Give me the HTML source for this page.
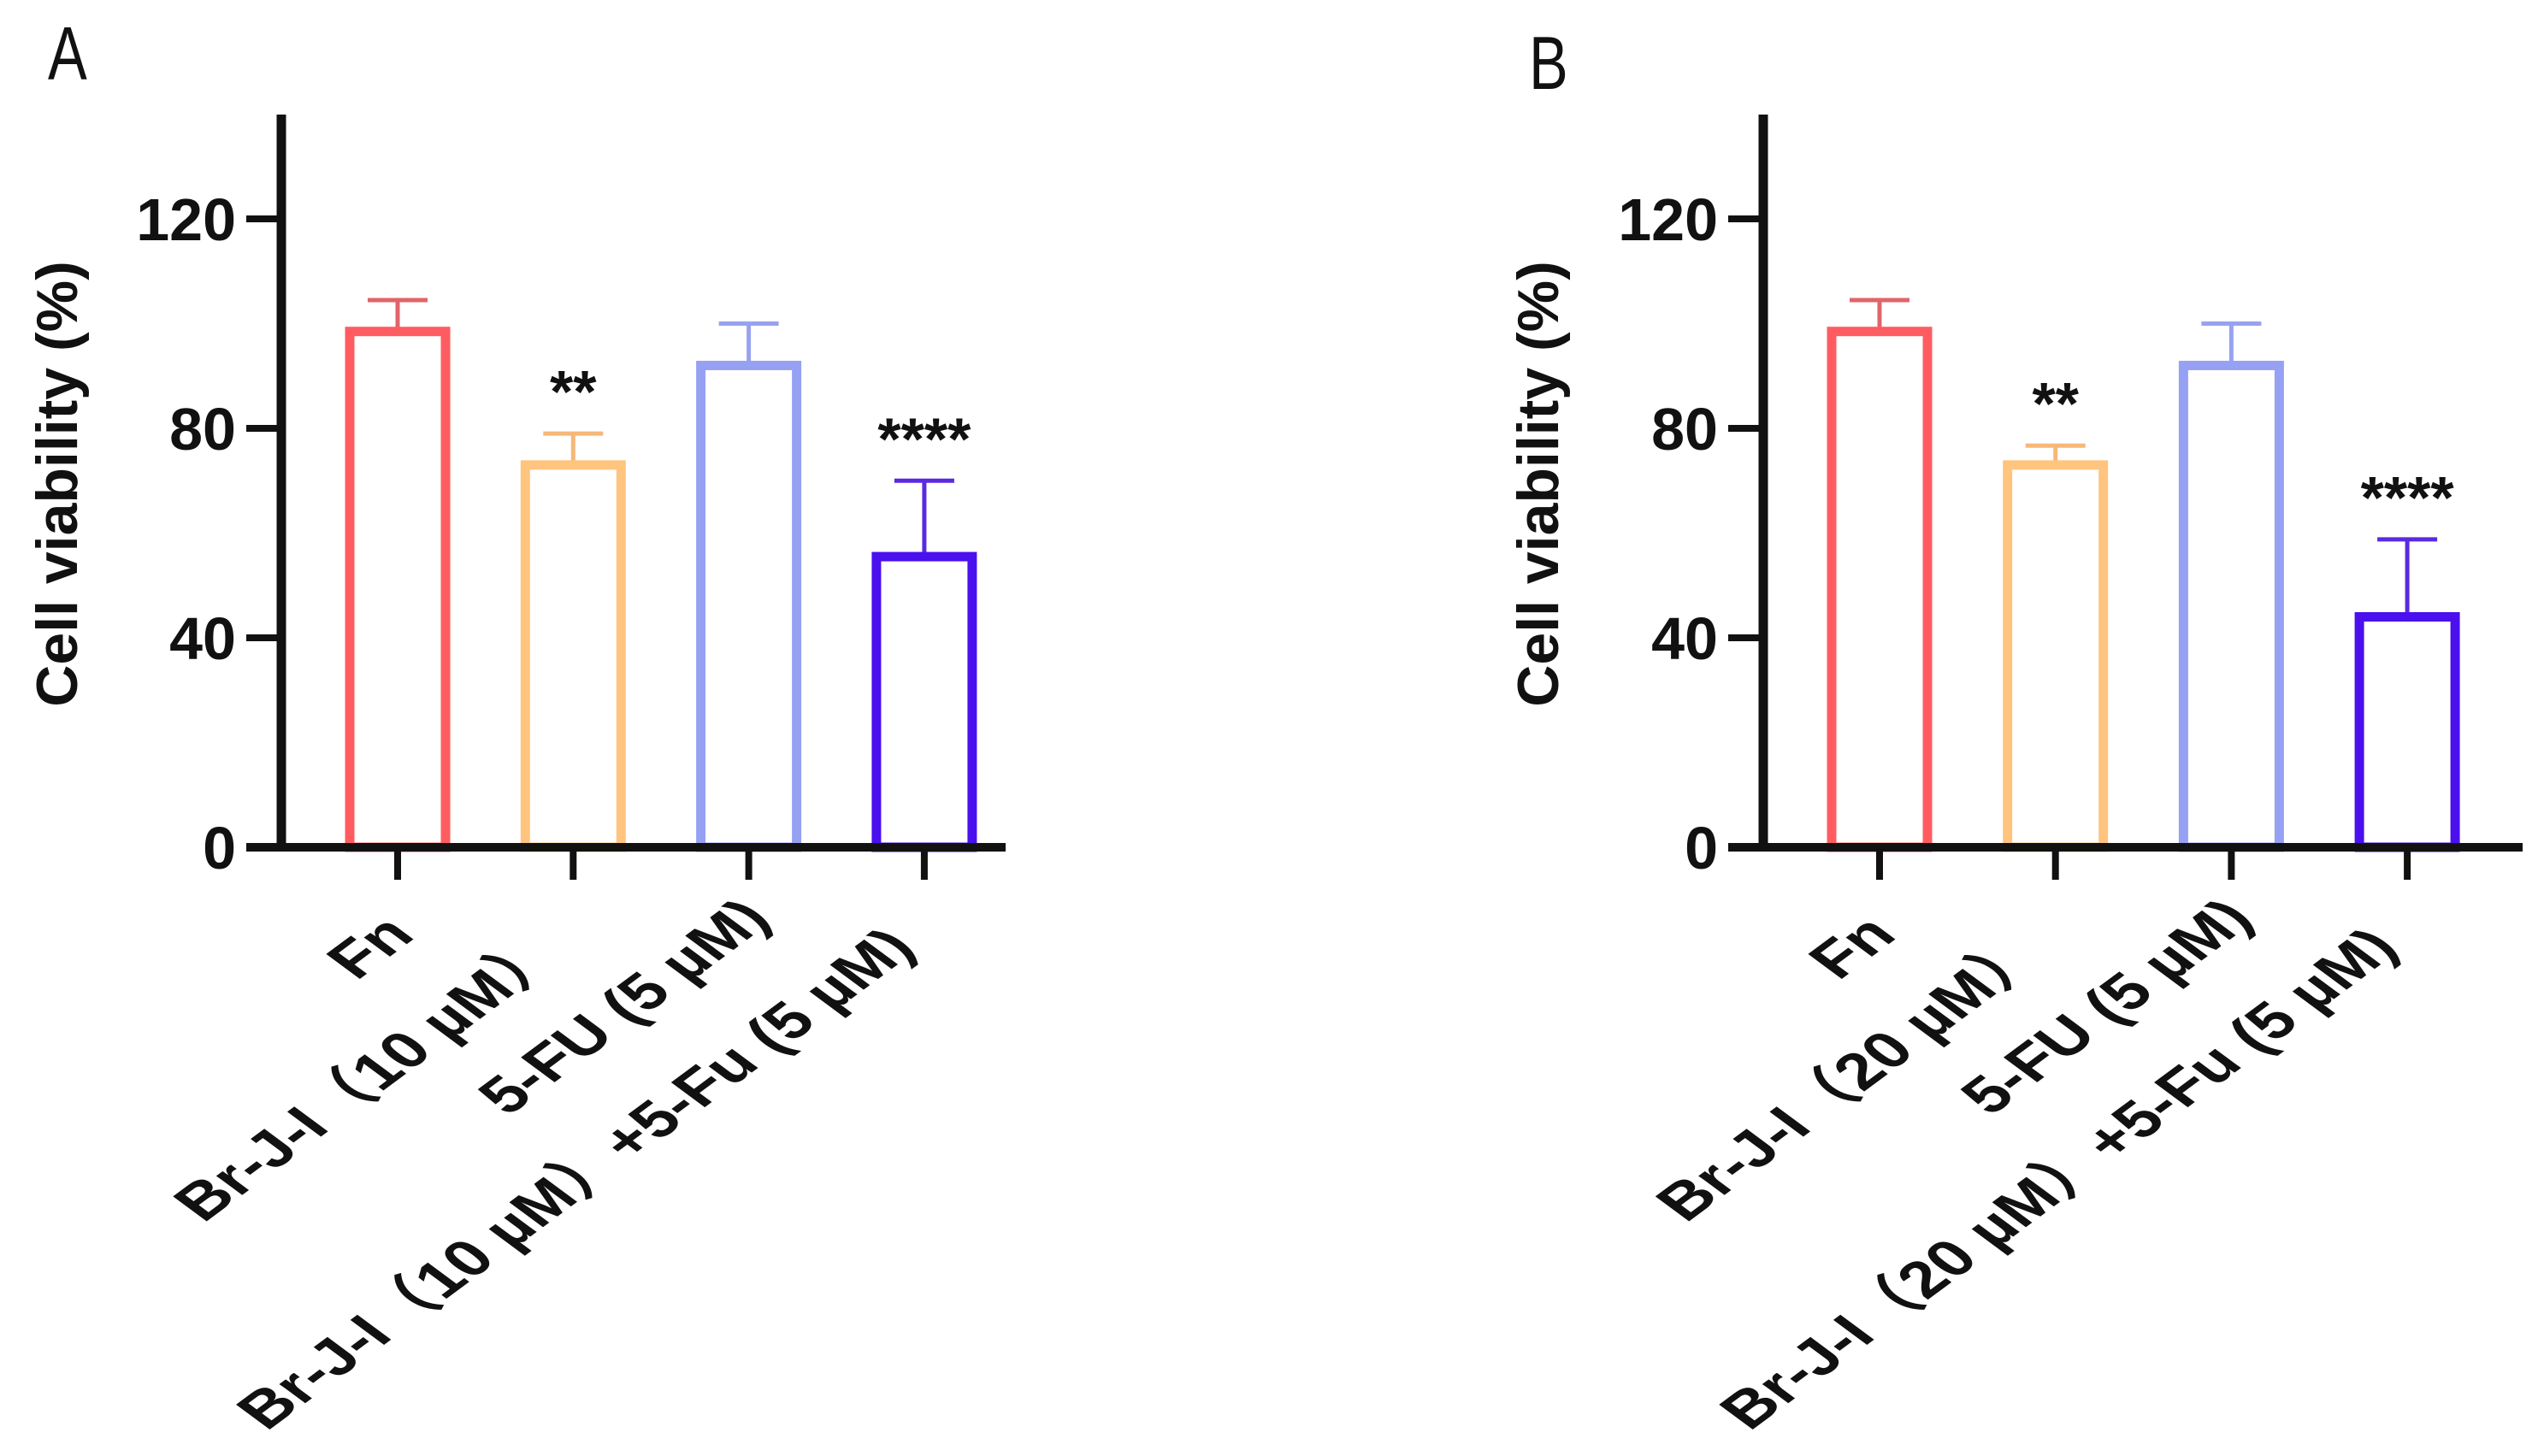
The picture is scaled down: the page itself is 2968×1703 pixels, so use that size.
<!DOCTYPE html>
<html><head><meta charset="utf-8"><style>
html,body{margin:0;padding:0;background:#fff;}
svg{display:block;}
text{font-family:"Liberation Sans","Noto Sans CJK SC",sans-serif;}
</style></head><body>
<svg id="fig" width="2968" height="1703" viewBox="0 0 2968 1703" xmlns="http://www.w3.org/2000/svg">
<rect width="2968" height="1703" fill="#fff"/>
</svg>
<script>
const categoriesA = ["Fn", "Br-J-I（10 µM）", "5-FU (5 µM)", "Br-J-I（10 µM）+5-Fu (5 µM)"];
const categoriesB = ["Fn", "Br-J-I（20 µM）", "5-FU (5 µM)", "Br-J-I（20 µM）+5-Fu (5 µM)"];
const meansA = [98.5, 73, 92, 55.5];
const errorsA = [6, 6, 8, 14.5];
const meansB = [98.5, 73, 92, 44];
const errorsB = [6, 3.7, 8, 14.8];
const starsA = ["", "**", "", "****"];
const starsB = ["", "**", "", "****"];
const yTicks = [0, 40, 80, 120];
const yMax = 140;

const NS = "http://www.w3.org/2000/svg";
const svg = document.getElementById("fig");
const colors = ["#ff5c61", "#ffc47e", "#97a1f3", "#4a10ee"];
const errColors = ["#e0656a", "#f6b878", "#98a2f0", "#5a2ae0"];
function mk(tag, attrs, parent) {
  const e = document.createElementNS(NS, tag);
  for (const k in attrs) e.setAttribute(k, attrs[k]);
  (parent || svg).appendChild(e);
  return e;
}
function panel(opt) {
  const g = mk("g", {});
  
  
  const y0 = 991, pxPerUnit = 6.125;
  const yScale = v => y0 - v * pxPerUnit;
  const xScale = i => opt.x0 + i * opt.step;
  const L = mk("text", {x: 0, y: 0, "font-size": 88, fill: "#111", transform: `translate(${opt.letterX},${opt.letterY}) scale(0.78,1)`}, g);
  L.textContent = opt.letter;
  
  
  opt.means.forEach((m, i) => {
    const cx = xScale(i), w = 112;
    const top = yScale(m), et = yScale(m + opt.errors[i]);
    const eb = mk("line", {x1: cx, x2: cx, y1: top, y2: et, stroke: errColors[i], "stroke-width": 5}, g);
    
    
    const cap = mk("line", {x1: cx - 35, x2: cx + 35, y1: et, y2: et, stroke: errColors[i], "stroke-width": 5}, g);
    
    
    const b = mk("rect", {x: cx - w / 2, y: top, width: w, height: y0 - top, fill: "none", stroke: colors[i], "stroke-width": 11}, g);
    
    
    if (opt.stars[i]) {
      const s = mk("text", {x: cx, y: et - 58 + 33, "font-size": 70, "font-weight": "bold", "text-anchor": "middle", fill: "#111"}, g);
      s.textContent = opt.stars[i];
      
      
    }
    const t = mk("line", {x1: cx, x2: cx, y1: y0, y2: y0 + 38, stroke: "#111", "stroke-width": 8}, g);
    
    
    const lab = mk("text", {x: 0, y: 0, "font-size": 60, "font-weight": "bold", "text-anchor": "end", fill: "#111",
      transform: `translate(${cx + opt.labOff[i][0]},${y0 + opt.labOff[i][1]}) scale(1.35,1) rotate(-45)`}, g);
    lab.textContent = opt.cats[i];
    
    
  });
  const ya = mk("line", {x1: opt.axisX, x2: opt.axisX, y1: 134, y2: y0 + 5, stroke: "#111", "stroke-width": 11}, g);
  
  
  const xa = mk("line", {x1: opt.axisX - 41, x2: opt.axisEnd, y1: y0, y2: y0, stroke: "#111", "stroke-width": 10}, g);
  
  
  yTicks.forEach(v => {
    const y = yScale(v);
    const tk = mk("line", {x1: opt.axisX - 41, x2: opt.axisX, y1: y, y2: y, stroke: "#111", "stroke-width": 8}, g);
    
    
    const tl = mk("text", {x: opt.axisX - 53, y: y + 25, "font-size": 70, "font-weight": "bold", "text-anchor": "end", fill: "#111"}, g);
    tl.textContent = v;
    
    
  });
  const yt = mk("text", {x: 0, y: 0, "font-size": 68, "font-weight": "bold", "text-anchor": "middle", fill: "#111",
    transform: `translate(${opt.titleX},566) rotate(-90)`}, g);
  yt.textContent = "Cell viability (%)";
  
  
}
const labOffA = [[22, 105], [-8, 126], [28, 86], [-8, 120]];
panel({name: "panel-a", letter: "A", letterX: 56, letterY: 93, x0: 465, step: 205.3, axisX: 329, axisEnd: 1176, titleX: 90,
  means: meansA, errors: errorsA, stars: starsA, cats: categoriesA, labOff: labOffA});
panel({name: "panel-b", letter: "B", letterX: 1788, letterY: 104, x0: 2198, step: 205.7, axisX: 2062, axisEnd: 2950, titleX: 1822,
  means: meansB, errors: errorsB, stars: starsB, cats: categoriesB, labOff: labOffA});
</script>
</body></html>
